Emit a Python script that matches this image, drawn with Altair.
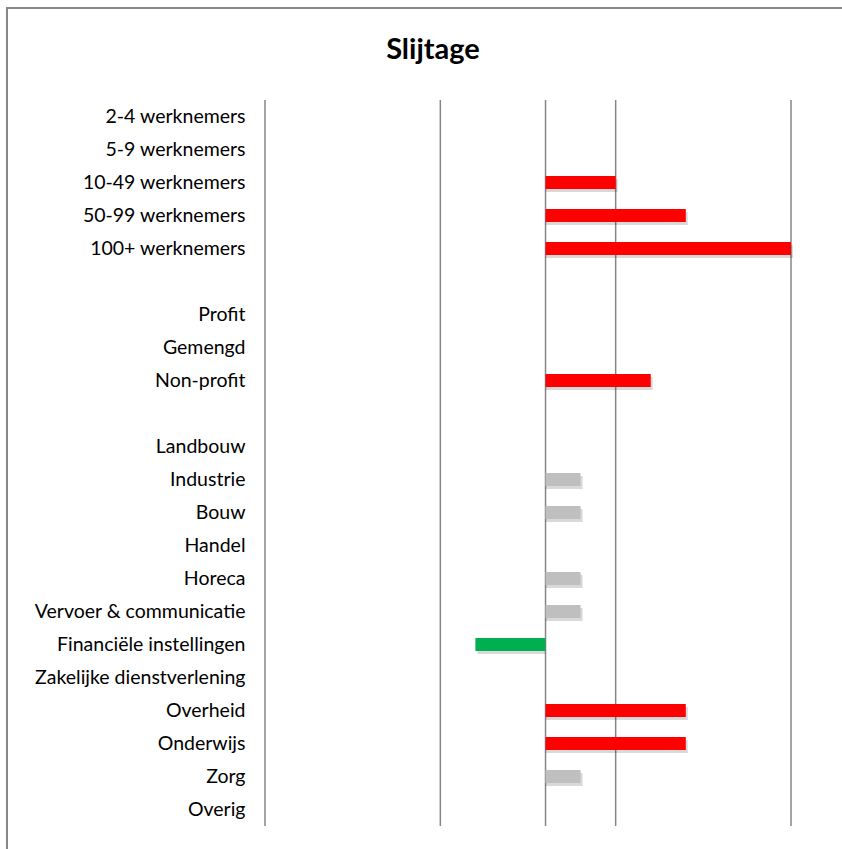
import altair as alt
import pandas as pd

title_text = "Slijtage"
categories = ["2-4 werknemers", "5-9 werknemers", "10-49 werknemers", "50-99 werknemers",
              "100+ werknemers", " ", "Profit", "Gemengd", "Non-profit", "  ",
              "Landbouw", "Industrie", "Bouw", "Handel", "Horeca", "Vervoer & communicatie",
              "Financiële instellingen", "Zakelijke dienstverlening", "Overheid", "Onderwijs",
              "Zorg", "Overig"]
values = [0, 0, 1, 2, 3.5, 0, 0, 0, 1.5, 0,
          0, 0.5, 0.5, 0, 0.5, 0.5, -1, 0, 2, 2, 0.5, 0]
colors = ["#FF0000", "#FF0000", "#FF0000", "#FF0000", "#FF0000", "#FF0000", "#FF0000", "#FF0000", "#FF0000", "#FF0000",
          "#BFBFBF", "#BFBFBF", "#BFBFBF", "#BFBFBF", "#BFBFBF", "#BFBFBF", "#00B050", "#BFBFBF", "#FF0000", "#FF0000",
          "#BFBFBF", "#BFBFBF"]
grid_values = [-4, -1.5, 0, 1, 3.5]

df = pd.DataFrame({"cat": categories, "value": values, "color": colors})
grid = pd.DataFrame({"g": grid_values})

xscale = alt.Scale(domain=[-4, 3.5], nice=False, zero=False)
yscale = alt.Scale(domain=categories, paddingInner=0.6, paddingOuter=0.3)

FONT = "Lato"
yaxis = alt.Axis(title=None, domain=False, ticks=False, grid=False,
                 labelFont=FONT, labelFontSize=19.5, labelColor="#000000",
                 labelPadding=20, labelLimit=300)

rules = alt.Chart(grid).mark_rule(color="#868686", strokeWidth=1.5).encode(
    x=alt.X("g:Q", scale=xscale, axis=None)
)

shadow = alt.Chart(df).mark_bar(color="#000000", xOffset=2, yOffset=3).encode(
    x=alt.X("value:Q", scale=xscale, axis=None),
    x2=alt.datum(0),
    y=alt.Y("cat:N", scale=yscale, sort=categories, axis=yaxis),
    opacity=alt.condition(alt.datum.value == 0, alt.value(0), alt.value(0.15)),
)

bars = alt.Chart(df).mark_bar().encode(
    x=alt.X("value:Q", scale=xscale, axis=None),
    x2=alt.datum(0),
    y=alt.Y("cat:N", scale=yscale, sort=categories, axis=yaxis),
    color=alt.Color("color:N", scale=None),
    opacity=alt.condition(alt.datum.value == 0, alt.value(0), alt.value(1)),
)

frame = alt.Chart(grid).mark_rect(fill=None, stroke="#888888", strokeWidth=2, clip=False).encode(
    x=alt.value(-258), x2=alt.value(700), y=alt.value(-92), y2=alt.value(900)
)

title = alt.Chart(pd.DataFrame({"t": [title_text]})).mark_text(
    font=FONT, fontSize=29, fontWeight="bold", color="#000000", align="center", baseline="middle"
).encode(text="t:N", x=alt.value(168), y=alt.value(-50))

chart = alt.layer(frame, rules, shadow, bars, title).properties(
    width=526, height=726,
    padding={"left": 265, "top": 100, "right": 51, "bottom": 23},
    autosize=alt.AutoSizeParams(type="none"),
    background="white",
).configure_view(stroke=None)

chart.save("out.html", embed_options={"renderer": "svg", "actions": False})
